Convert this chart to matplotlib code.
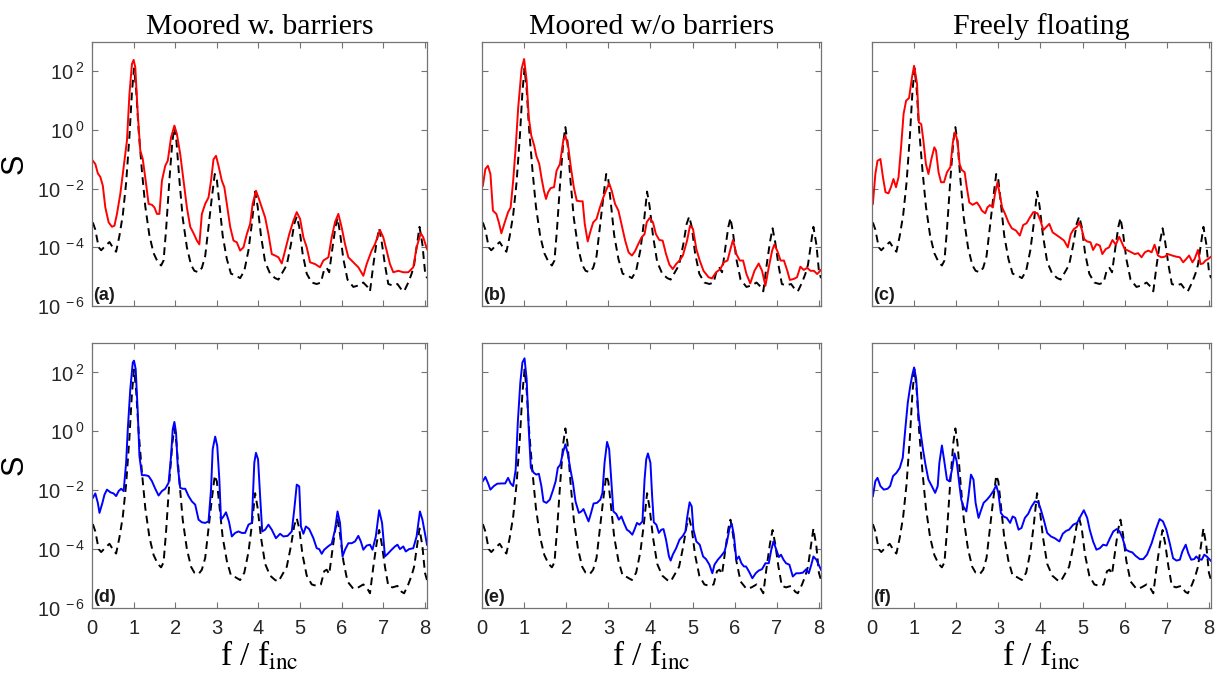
import matplotlib
matplotlib.use("Agg")
import matplotlib.pyplot as plt
import numpy as np

plt.rcParams["font.family"] = ["Liberation Sans", "DejaVu Sans"]
plt.rcParams["mathtext.fontset"] = "custom"
plt.rcParams["mathtext.rm"] = "Liberation Sans"
plt.rcParams["mathtext.it"] = "Liberation Sans:italic"

# column titles and panel tags
titles = ["Moored w. barriers", "Moored w/o barriers", "Freely floating"]
panel_tags = [["(a)", "(b)", "(c)"], ["(d)", "(e)", "(f)"]]

# incident spectrum (dashed, same in every panel), log10(S)
f_inc = [0.02, 0.08, 0.16, 0.22, 0.32, 0.42, 0.52, 0.58, 0.66, 0.74, 0.82, 0.9, 0.96, 1.01,
         1.06, 1.12, 1.2, 1.28, 1.38, 1.48, 1.58, 1.66, 1.72, 1.78, 1.86, 1.93, 1.98, 2.03,
         2.1, 2.18, 2.28, 2.38, 2.46, 2.56, 2.64, 2.72, 2.8, 2.88, 2.95, 3.0, 3.06, 3.14,
         3.24, 3.34, 3.44, 3.56, 3.66, 3.76, 3.84, 3.92, 3.98, 4.06, 4.16, 4.28, 4.4, 4.48,
         4.58, 4.68, 4.78, 4.86, 4.92, 4.98, 5.06, 5.16, 5.28, 5.4, 5.5, 5.58, 5.64, 5.7,
         5.78, 5.85, 5.9, 5.96, 6.04, 6.14, 6.28, 6.4, 6.52, 6.62, 6.68, 6.76, 6.84, 6.9,
         6.96, 7.04, 7.12, 7.22, 7.34, 7.44, 7.5, 7.6, 7.68, 7.74, 7.8, 7.87, 7.94, 8.0, 8.05]
logS_inc = [-3.15, -3.4, -4.0, -4.1, -3.95, -3.82, -4.05, -4.15, -3.6, -2.9, -1.8, -0.2, 1.3, 2.1,
            1.4, 0.0, -1.4, -2.6, -3.6, -4.2, -4.5, -4.62, -4.45, -3.4, -1.7, -0.4, 0.1, -0.4,
            -1.7, -3.0, -4.0, -4.6, -4.8, -4.85, -4.7, -4.3, -3.3, -2.3, -1.5, -1.7, -2.5, -3.6,
            -4.4, -4.9, -4.95, -5.05, -4.8, -4.1, -3.2, -2.1, -2.6, -3.6, -4.5, -4.9, -5.05, -5.1,
            -4.85, -4.6, -3.9, -3.2, -2.95, -3.3, -4.2, -4.9, -5.2, -5.25, -5.2, -4.75, -4.7, -4.85,
            -4.0, -3.3, -3.0, -3.5, -4.4, -5.1, -5.35, -5.3, -5.2, -5.35, -5.5, -4.6, -3.8, -3.35,
            -3.8, -4.6, -5.25, -5.3, -5.25, -5.45, -5.5, -5.2, -4.9, -4.6, -4.0, -3.3, -3.9, -4.8, -5.05]

# (a) moored with barriers, top row
f_a = [0.02, 0.08, 0.14, 0.2, 0.26, 0.32, 0.4, 0.48, 0.54, 0.6, 0.68, 0.76, 0.84, 0.9, 0.96, 1.0,
       1.04, 1.1, 1.16, 1.22, 1.3, 1.36, 1.44, 1.5, 1.56, 1.62, 1.68, 1.76, 1.82, 1.9, 1.98, 2.04,
       2.12, 2.2, 2.28, 2.36, 2.44, 2.52, 2.58, 2.64, 2.72, 2.8, 2.86, 2.92, 2.98, 3.04, 3.12,
       3.18, 3.24, 3.32, 3.4, 3.48, 3.56, 3.64, 3.72, 3.8, 3.86, 3.94, 4.0, 4.08, 4.16, 4.24,
       4.32, 4.4, 4.48, 4.56, 4.64, 4.74, 4.84, 4.92, 5.0, 5.08, 5.16, 5.24, 5.36, 5.48, 5.56,
       5.68, 5.76, 5.84, 5.92, 6.0, 6.08, 6.16, 6.28, 6.4, 6.52, 6.6, 6.72, 6.8, 6.92, 7.0, 7.08,
       7.16, 7.24, 7.36, 7.48, 7.6, 7.72, 7.8, 7.9, 7.96, 8.05]
logS_a = [-1.05, -1.16, -1.48, -1.6, -1.9, -2.64, -3.15, -3.3, -3.26, -2.86, -2.18, -1.27, -0.36,
          1.23, 2.25, 2.39, 2.14, 0.55, -0.7, -0.99, -1.84, -2.52, -2.55, -2.64, -2.86, -2.86,
          -1.73, -1.22, -1.05, -0.25, 0.15, -0.14, -0.82, -1.73, -2.64, -3.3, -3.52, -3.77, -3.9,
          -2.86, -2.52, -2.3, -1.73, -1.0, -0.88, -1.22, -1.73, -1.95, -2.52, -3.3, -3.77, -3.83,
          -4.11, -4.0, -3.55, -3.2, -2.52, -2.07, -2.3, -2.64, -2.98, -3.55, -4.23, -4.28, -4.34,
          -4.55, -4.11, -3.55, -3.09, -2.8, -3.03, -3.66, -4.0, -4.51, -4.57, -4.68, -4.45, -4.34,
          -3.66, -3.14, -2.86, -3.32, -3.89, -4.34, -4.51, -4.68, -4.97, -4.57, -4.11, -3.89,
          -3.41, -3.66, -4.11, -4.57, -4.85, -4.8, -4.85, -4.85, -4.68, -4.0, -3.52, -3.66, -4.06]

# (b) moored without barriers, top row
f_b = [0.02, 0.08, 0.14, 0.2, 0.26, 0.34, 0.4, 0.46, 0.54, 0.62, 0.68, 0.74, 0.8, 0.86, 0.94, 1.0,
       1.06, 1.11, 1.17, 1.24, 1.29, 1.36, 1.41, 1.47, 1.52, 1.57, 1.63, 1.71, 1.77, 1.85, 1.93,
       1.98, 2.05, 2.11, 2.18, 2.25, 2.33, 2.39, 2.44, 2.51, 2.58, 2.64, 2.72, 2.8, 2.88, 2.96,
       3.02, 3.08, 3.16, 3.24, 3.32, 3.4, 3.48, 3.56, 3.63, 3.71, 3.79, 3.86, 3.91, 3.98, 4.06,
       4.13, 4.21, 4.29, 4.37, 4.45, 4.53, 4.61, 4.69, 4.77, 4.87, 4.94, 5.01, 5.09, 5.17, 5.26,
       5.38, 5.46, 5.56, 5.66, 5.74, 5.83, 5.9, 5.96, 6.04, 6.12, 6.2, 6.28, 6.37, 6.47, 6.57,
       6.65, 6.73, 6.81, 6.89, 6.94, 7.01, 7.09, 7.17, 7.25, 7.31, 7.4, 7.48, 7.56, 7.64, 7.72,
       7.8, 7.88, 7.96, 8.05]
logS_b = [-1.9, -1.33, -1.22, -1.5, -2.75, -2.86, -3.15, -3.52, -3.15, -2.8, -2.64, -1.73, -0.59,
          0.77, 2.08, 2.42, 1.68, 0.43, -0.19, -0.53, -0.88, -1.16, -1.61, -2.07, -2.35, -2.12,
          -1.98, -1.95, -1.39, -1.16, -0.36, -0.19, -0.59, -1.27, -1.95, -2.41, -2.43, -2.43,
          -3.2, -3.8, -3.43, -3.15, -3.03, -2.64, -2.3, -2.01, -1.82, -2.07, -2.52, -2.75, -3.26,
          -3.77, -4.17, -4.28, -4.14, -3.89, -3.66, -3.55, -3.15, -3.0, -3.15, -3.55, -3.75,
          -3.77, -4.23, -4.59, -4.74, -4.57, -4.45, -4.28, -3.77, -3.26, -3.37, -4.06, -4.45,
          -4.8, -5.02, -5.06, -4.85, -4.74, -4.51, -4.45, -4.06, -3.75, -4.23, -4.45, -4.45,
          -4.91, -5.23, -4.8, -4.55, -4.8, -5.31, -4.68, -4.11, -3.91, -4.11, -4.45, -4.45, -4.8,
          -5.11, -5.08, -5.02, -4.66, -4.77, -4.7, -4.8, -4.8, -4.91, -4.77]

# (c) freely floating, top row
f_c = [0.02, 0.08, 0.13, 0.2, 0.26, 0.32, 0.39, 0.45, 0.51, 0.57, 0.63, 0.69, 0.75, 0.81, 0.88,
       0.95, 1.0, 1.07, 1.11, 1.17, 1.22, 1.28, 1.34, 1.41, 1.48, 1.52, 1.58, 1.64, 1.71, 1.78,
       1.86, 1.92, 1.97, 2.03, 2.08, 2.13, 2.2, 2.25, 2.31, 2.39, 2.49, 2.55, 2.61, 2.69, 2.74,
       2.8, 2.87, 2.92, 2.98, 3.04, 3.09, 3.16, 3.24, 3.32, 3.42, 3.51, 3.59, 3.67, 3.75, 3.83,
       3.93, 4.0, 4.07, 4.13, 4.21, 4.29, 4.38, 4.46, 4.56, 4.65, 4.72, 4.79, 4.87, 4.92, 4.98,
       5.04, 5.11, 5.19, 5.25, 5.33, 5.41, 5.47, 5.55, 5.63, 5.71, 5.79, 5.87, 5.93, 6.0, 6.08,
       6.16, 6.24, 6.32, 6.4, 6.48, 6.56, 6.64, 6.71, 6.79, 6.87, 6.95, 7.03, 7.13, 7.23, 7.31,
       7.39, 7.46, 7.53, 7.61, 7.66, 7.74, 7.8, 7.86, 7.92, 7.98, 8.05]
logS_c = [-2.52, -1.5, -1.05, -0.99, -1.61, -2.12, -2.16, -1.95, -1.67, -1.95, -1.61, -0.59, 0.55,
          1.0, 1.09, 1.8, 2.19, 1.57, 0.26, 0.2, -0.36, -1.16, -1.5, -0.99, -0.59, -0.7, -1.44,
          -1.78, -1.78, -1.44, -1.27, -0.42, -0.08, -0.36, -1.16, -1.36, -1.44, -1.95, -2.47,
          -2.55, -2.47, -2.59, -2.75, -2.84, -2.64, -2.56, -2.64, -2.18, -1.78, -2.24, -2.64,
          -2.86, -3.15, -3.35, -3.43, -3.6, -3.24, -3.18, -2.98, -2.8, -2.84, -3.09, -3.41, -3.32,
          -3.2, -3.49, -3.58, -3.66, -3.77, -4.0, -3.55, -3.38, -3.3, -3.15, -3.38, -3.72, -3.8,
          -3.83, -4.09, -3.89, -3.94, -4.23, -4.06, -4.0, -3.75, -3.91, -3.64, -3.83, -4.06,
          -4.11, -4.17, -4.23, -4.2, -4.34, -4.17, -4.11, -4.17, -3.91, -4.28, -4.34, -4.32,
          -4.23, -4.28, -4.32, -4.34, -4.51, -4.4, -4.28, -4.51, -4.4, -4.09, -4.57, -4.55, -4.45,
          -4.4, -4.32]

# (d) moored with barriers, bottom row
f_d = [0.02, 0.08, 0.14, 0.18, 0.25, 0.3, 0.36, 0.44, 0.52, 0.58, 0.64, 0.7, 0.76, 0.82, 0.86,
       0.92, 0.98, 1.01, 1.05, 1.1, 1.14, 1.2, 1.28, 1.36, 1.44, 1.52, 1.6, 1.68, 1.76, 1.84, 1.9,
       1.94, 1.98, 2.02, 2.06, 2.12, 2.18, 2.24, 2.32, 2.4, 2.48, 2.56, 2.64, 2.72, 2.8, 2.86,
       2.9, 2.96, 3.01, 3.06, 3.1, 3.16, 3.22, 3.29, 3.36, 3.44, 3.52, 3.6, 3.68, 3.76, 3.84,
       3.9, 3.94, 3.99, 4.04, 4.09, 4.16, 4.24, 4.32, 4.42, 4.52, 4.6, 4.7, 4.8, 4.86, 4.92,
       4.98, 5.02, 5.08, 5.14, 5.22, 5.32, 5.4, 5.46, 5.52, 5.58, 5.68, 5.76, 5.84, 5.9, 5.96,
       6.02, 6.08, 6.16, 6.24, 6.32, 6.4, 6.46, 6.52, 6.6, 6.68, 6.74, 6.82, 6.9, 6.97, 7.04,
       7.12, 7.2, 7.28, 7.34, 7.4, 7.48, 7.54, 7.62, 7.72, 7.8, 7.88, 7.94, 8.05]
logS_d = [-2.26, -2.11, -2.43, -2.77, -2.43, -2.15, -1.98, -2.07, -2.11, -2.2, -2.03, -1.95, -2.03,
          -1.07, 0.07, 1.43, 2.34, 2.4, 2.11, 0.64, -0.84, -1.49, -1.49, -1.52, -1.69, -1.95,
          -2.18, -2.03, -1.95, -1.75, -0.84, 0.07, 0.32, -0.05, -1.18, -1.92, -1.95, -1.95, -2.2,
          -2.38, -2.49, -3.0, -3.09, -3.11, -3.06, -1.98, -0.61, -0.18, -0.5, -1.64, -3.0, -2.89,
          -2.75, -3.06, -3.57, -3.45, -3.4, -3.45, -3.45, -3.17, -3.11, -1.07, -0.73, -0.95, -2.2,
          -3.4, -3.34, -3.17, -3.34, -3.63, -3.48, -3.57, -3.55, -3.4, -2.66, -1.81, -1.87, -3.23,
          -3.48, -3.23, -3.32, -3.63, -3.97, -4.0, -4.16, -4.02, -3.9, -3.82, -3.34, -2.72, -3.11,
          -4.25, -4.02, -3.8, -3.8, -3.74, -3.55, -3.74, -4.02, -3.88, -3.85, -4.02, -3.57, -2.68,
          -3.11, -4.25, -4.14, -4.02, -3.91, -3.85, -4.0, -3.91, -4.08, -4.0, -3.97, -3.57, -2.72,
          -3.0, -3.85]

# (e) moored without barriers, bottom row
f_e = [0.02, 0.08, 0.14, 0.2, 0.28, 0.36, 0.46, 0.55, 0.62, 0.68, 0.74, 0.8, 0.85, 0.91, 0.96,
       1.01, 1.06, 1.11, 1.16, 1.23, 1.29, 1.35, 1.41, 1.46, 1.53, 1.61, 1.69, 1.75, 1.8, 1.86,
       1.92, 1.98, 2.04, 2.1, 2.16, 2.22, 2.3, 2.36, 2.41, 2.48, 2.53, 2.59, 2.65, 2.73, 2.81,
       2.86, 2.91, 2.97, 3.02, 3.07, 3.12, 3.19, 3.25, 3.31, 3.37, 3.44, 3.5, 3.57, 3.62, 3.68,
       3.74, 3.81, 3.86, 3.9, 3.94, 4.0, 4.04, 4.08, 4.14, 4.2, 4.26, 4.31, 4.37, 4.44, 4.48,
       4.53, 4.61, 4.69, 4.77, 4.83, 4.87, 4.93, 4.98, 5.02, 5.09, 5.17, 5.25, 5.32, 5.4, 5.47,
       5.52, 5.6, 5.68, 5.76, 5.81, 5.88, 5.93, 5.98, 6.04, 6.1, 6.16, 6.22, 6.27, 6.34, 6.42,
       6.5, 6.57, 6.65, 6.73, 6.81, 6.87, 6.92, 6.99, 7.05, 7.1, 7.16, 7.22, 7.3, 7.38, 7.46,
       7.54, 7.62, 7.7, 7.76, 7.82, 7.87, 7.94, 8.05]
logS_e = [-1.69, -1.55, -1.75, -1.98, -1.86, -1.78, -1.77, -1.77, -1.58, -1.77, -1.86, -1.3, 0.3,
          1.66, 2.34, 2.48, 1.77, 0.07, -1.24, -1.41, -1.47, -1.44, -1.86, -2.38, -2.43, -2.32,
          -1.98, -1.69, -1.24, -1.13, -0.73, -0.44, -0.78, -1.3, -1.75, -2.38, -2.77, -2.72,
          -2.64, -2.89, -3.06, -2.77, -2.45, -2.43, -2.32, -2.09, -1.07, -0.36, -0.61, -1.64,
          -2.72, -2.81, -3.0, -2.89, -3.11, -3.34, -3.4, -3.51, -3.34, -3.11, -3.17, -3.06, -1.64,
          -0.95, -0.75, -1.07, -2.2, -3.09, -3.17, -3.45, -3.34, -3.32, -3.68, -4.25, -4.39, -4.19,
          -3.97, -3.68, -3.55, -3.4, -2.94, -2.41, -2.55, -3.34, -3.74, -3.85, -4.25, -4.34,
          -4.53, -4.82, -4.53, -4.36, -4.23, -4.08, -3.8, -3.28, -3.14, -3.51, -4.36, -4.25, -4.48,
          -4.59, -4.59, -4.76, -4.99, -4.82, -4.73, -4.68, -4.48, -4.48, -4.02, -3.74, -4.02, -4.27,
          -4.19, -4.36, -4.48, -4.53, -4.93, -4.82, -4.82, -4.8, -4.68, -4.82, -4.53, -4.25, -4.36,
          -4.7]

# (f) freely floating, bottom row
f_f = [0.02, 0.08, 0.13, 0.2, 0.28, 0.37, 0.43, 0.5, 0.58, 0.66, 0.73, 0.79, 0.85, 0.91, 0.96, 1.0,
       1.05, 1.1, 1.15, 1.21, 1.27, 1.34, 1.42, 1.5, 1.56, 1.6, 1.66, 1.71, 1.78, 1.84, 1.9, 1.96,
       2.01, 2.07, 2.12, 2.17, 2.24, 2.29, 2.35, 2.41, 2.46, 2.53, 2.58, 2.65, 2.73, 2.8, 2.88,
       2.95, 3.0, 3.06, 3.12, 3.2, 3.28, 3.34, 3.4, 3.48, 3.55, 3.63, 3.71, 3.79, 3.87, 3.95,
       4.01, 4.09, 4.16, 4.25, 4.34, 4.45, 4.53, 4.61, 4.68, 4.78, 4.87, 4.95, 5.03, 5.11, 5.17,
       5.25, 5.33, 5.41, 5.49, 5.57, 5.65, 5.73, 5.81, 5.88, 5.95, 6.03, 6.11, 6.18, 6.26, 6.36,
       6.44, 6.53, 6.64, 6.74, 6.83, 6.91, 6.99, 7.07, 7.15, 7.23, 7.31, 7.37, 7.45, 7.51, 7.58,
       7.65, 7.7, 7.76, 7.83, 7.89, 7.95, 8.05]
logS_f = [-2.2, -1.69, -1.58, -1.86, -1.98, -1.95, -1.86, -1.52, -1.41, -1.24, -0.9, 0.07, 0.98,
          1.55, 1.94, 2.17, 1.77, 0.64, 0.01, -0.61, -1.13, -1.64, -1.86, -2.09, -1.86, -1.07,
          -0.48, -0.95, -1.64, -1.7, -1.3, -0.75, -1.01, -1.75, -2.32, -2.55, -2.72, -2.2, -1.47,
          -1.64, -2.43, -2.94, -2.72, -2.43, -2.32, -2.2, -2.03, -1.84, -2.09, -2.77, -2.89,
          -2.94, -3.11, -2.89, -2.94, -3.34, -3.28, -2.94, -2.8, -2.55, -2.38, -2.42, -2.66, -3.06,
          -3.45, -3.57, -3.63, -3.74, -3.48, -3.38, -3.34, -3.17, -3.11, -2.89, -2.68, -2.94,
          -3.34, -3.74, -4.02, -3.97, -3.85, -3.88, -3.63, -3.4, -3.32, -3.4, -3.63, -4.02, -4.08,
          -4.11, -4.23, -4.34, -4.34, -4.19, -3.8, -3.34, -2.98, -3.06, -3.34, -3.8, -4.31, -4.39,
          -4.36, -4.08, -3.85, -4.14, -4.36, -4.34, -4.25, -4.34, -4.36, -4.19, -4.25, -4.4]

top_f = [f_a, f_b, f_c]
top_logS = [logS_a, logS_b, logS_c]
bot_f = [f_d, f_e, f_f]
bot_logS = [logS_d, logS_e, logS_f]

fig = plt.figure(figsize=(12.17, 6.81), dpi=100)

lefts = [92, 482, 872]
widths = [335, 339, 339]
rows = [(42, 306), (343, 608)]
W, H = 1217, 681

frame_col = "0.45"
text_col = "0.15"

for r, (top, bottom) in enumerate(rows):
    for c in range(3):
        ax = fig.add_axes([lefts[c] / W, 1 - bottom / H, widths[c] / W, (bottom - top) / H])
        if r == 0:
            fx, ly, col = top_f[c], top_logS[c], "red"
        else:
            fx, ly, col = bot_f[c], bot_logS[c], "blue"
        ax.plot(f_inc, 10 ** np.array(logS_inc), color="black", lw=1.4,
                dashes=(4.0, 2.6))
        ax.plot(fx, 10 ** np.array(ly), color=col, lw=1.4)
        ax.set_yscale("log")
        ax.set_xlim(0, 8.05)
        ax.set_ylim(1e-6, 1e3)
        ax.set_yticks([1e-6, 1e-4, 1e-2, 1e0, 1e2])
        ax.yaxis.set_minor_locator(matplotlib.ticker.NullLocator())
        ax.set_xticks(range(9))
        ax.tick_params(direction="in", top=True, right=True, length=4, width=0.8,
                       color=frame_col, labelcolor=text_col, labelsize=14.5)
        ax.tick_params(axis="x", pad=8)
        ax.tick_params(axis="y", pad=5)
        for sp in ax.spines.values():
            sp.set_color(frame_col)
            sp.set_linewidth(0.9)
        if c == 0:
            ax.set_yticklabels([r"$10^{\;-6}$", r"$10^{\;-4}$", r"$10^{\;-2}$",
                                r"$10^{\;0}$", r"$10^{\;2}$"])
            ax.set_ylabel("S", fontsize=22, color="black")
            ax.yaxis.set_label_coords(-0.185, 0.54)
        else:
            ax.set_yticklabels([])
        if r == 0:
            ax.set_xticklabels([])
            ax.set_title(titles[c], fontsize=21.5, family="Liberation Serif", pad=6)
        else:
            ax.set_xlabel(r"f / f$_{\mathrm{inc}}$", fontsize=24, family="Liberation Serif",
                          math_fontfamily="stix", labelpad=1)
        ax.text(0.004, 0.006, panel_tags[r][c], transform=ax.transAxes, fontsize=13,
                fontweight="bold", ha="left", va="bottom", color="0.1")

fig.savefig("out.png", dpi=100)
